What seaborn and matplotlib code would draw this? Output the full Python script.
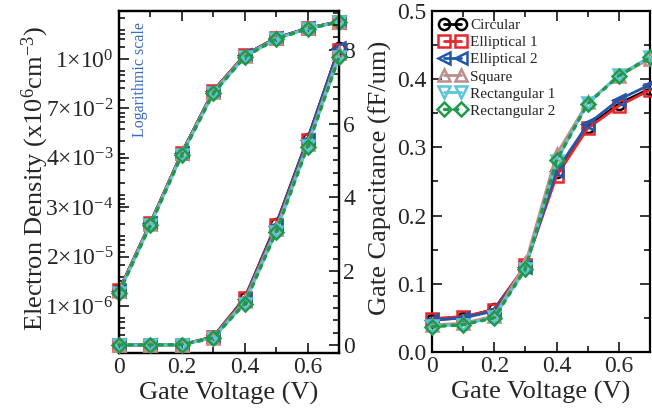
import numpy as np
import pandas as pd
import matplotlib
matplotlib.use("Agg")
import matplotlib.pyplot as plt
import matplotlib.ticker as mticker
import seaborn as sns

# ---------------- data ----------------
voltage = [0.0, 0.1, 0.2, 0.3, 0.4, 0.5, 0.6, 0.7]
series_names = ["Circular", "Elliptical 1", "Elliptical 2", "Square",
                "Rectangular 1", "Rectangular 2"]

# electron density, logarithmic-scale curve (x10^6 cm^-3)
density_log_circular = [2.4e-6, 1.05e-4, 5.3e-3, 0.168, 1.25, 3.25, 5.6, 8.1]
density_log_ellip1 = [2.4e-6, 1.05e-4, 5.3e-3, 0.168, 1.25, 3.22, 5.55, 8.05]
density_log_ellip2 = [2.3e-6, 1.02e-4, 5.2e-3, 0.165, 1.23, 3.2, 5.55, 8.1]
density_log_square = [2.3e-6, 1.0e-4, 5.1e-3, 0.16, 1.2, 3.15, 5.5, 7.95]
density_log_rect1 = [2.1e-6, 9.3e-5, 4.7e-3, 0.146, 1.12, 3.06, 5.45, 7.9]
density_log_rect2 = [2.1e-6, 9.3e-5, 4.7e-3, 0.146, 1.12, 3.06, 5.4, 7.85]

# electron density, linear-scale curve (x10^6 cm^-3)
density_lin_circular = [0.0, 0.0, 0.005, 0.22, 1.27, 3.27, 5.58, 8.05]
density_lin_ellip1 = [0.0, 0.0, 0.005, 0.22, 1.26, 3.24, 5.55, 8.0]
density_lin_ellip2 = [0.0, 0.0, 0.005, 0.21, 1.24, 3.22, 5.55, 8.05]
density_lin_square = [0.0, 0.0, 0.005, 0.2, 1.2, 3.15, 5.45, 7.9]
density_lin_rect1 = [0.0, 0.0, 0.005, 0.19, 1.12, 3.06, 5.38, 7.8]
density_lin_rect2 = [0.0, 0.0, 0.005, 0.19, 1.12, 3.06, 5.37, 7.8]

# gate capacitance (fF/um)
cap_circular = [0.047, 0.050, 0.063, 0.126, 0.264, 0.330, 0.364, 0.386]
cap_ellip1 = [0.049, 0.052, 0.062, 0.127, 0.258, 0.328, 0.361, 0.384]
cap_ellip2 = [0.047, 0.050, 0.060, 0.125, 0.266, 0.334, 0.370, 0.392]
cap_square = [0.040, 0.042, 0.053, 0.130, 0.290, 0.366, 0.405, 0.430]
cap_rect1 = [0.038, 0.040, 0.051, 0.122, 0.280, 0.365, 0.406, 0.433]
cap_rect2 = [0.037, 0.040, 0.050, 0.122, 0.281, 0.364, 0.405, 0.432]

log_tick_labels = [r"1×10$^{0}$", r"7×10$^{-2}$", r"4×10$^{-3}$",
                   r"3×10$^{-4}$", r"2×10$^{-5}$", r"1×10$^{-6}$"]
log_tick_exponents = [0.0, -1.2, -2.4, -3.6, -4.8, -6.0]

density_log = [density_log_circular, density_log_ellip1, density_log_ellip2,
               density_log_square, density_log_rect1, density_log_rect2]
density_lin = [density_lin_circular, density_lin_ellip1, density_lin_ellip2,
               density_lin_square, density_lin_rect1, density_lin_rect2]
capacitance = [cap_circular, cap_ellip1, cap_ellip2, cap_square, cap_rect1, cap_rect2]

# ---------------- style ----------------
colors = ["#000000", "#e8262b", "#2457a8", "#bc8f8a", "#5cc6d8", "#1f9a4a"]
markers = ["o", "s", "<", "^", "v", "D"]
linestyles = ["-", "-", "-", "-", "-", ":"]

sns.set_style("ticks")
plt.rcParams["font.family"] = ["Liberation Serif", "DejaVu Serif"]
plt.rcParams["mathtext.fontset"] = "custom"
plt.rcParams["mathtext.rm"] = "Liberation Serif"
plt.rcParams["mathtext.it"] = "Liberation Serif:italic"
plt.rcParams["axes.linewidth"] = 1.6
plt.rcParams["axes.edgecolor"] = "black"

fig = plt.figure(figsize=(6.52, 4.12), dpi=100)
axL = fig.add_axes([119 / 652, 1 - 353 / 412, 220 / 652, 342 / 412])
axR = axL.twinx()
axC = fig.add_axes([432 / 652, 1 - 352 / 412, 218 / 652, 341 / 412])

LW = 2.0
MS = 8.0
MEW = 1.8
TICK_FS = 17
LABEL_FS = 19


def draw(ax, yvals, label=None):
    for i in range(len(series_names)):
        sns.lineplot(x=voltage, y=yvals[i], ax=ax, color=colors[i],
                     marker=markers[i], markersize=MS if markers[i] != "D" else MS - 1,
                     mfc="none", mec=colors[i], mew=MEW,
                     linestyle=linestyles[i], lw=LW if linestyles[i] == "-" else 2.4,
                     label=series_names[i] if label else None,
                     legend=False, errorbar=None, clip_on=False, zorder=3 + i)


draw(axL, density_log)
draw(axR, density_lin)
draw(axC, capacitance, label=True)

for ln in axL.lines + axR.lines + axC.lines:
    if ln.get_linestyle() == ":":
        ln.set_dashes([1.0, 2.0])
        ln.set_dash_capstyle("round")

# ---- left panel axes ----
axL.set_yscale("log")
axL.set_xlim(0, 0.7)
axL.set_ylim(10 ** -7.14, 10 ** 1.165)
axL.yaxis.set_major_locator(mticker.FixedLocator([10 ** e for e in log_tick_exponents]))
axL.yaxis.set_major_formatter(mticker.FixedFormatter(log_tick_labels))
axL.yaxis.set_minor_locator(mticker.LogLocator(base=10, subs=(1.0, 2.0, 3.0, 4.0, 5.0), numticks=30))
axL.yaxis.set_minor_formatter(mticker.NullFormatter())
axR.set_ylim(-0.22, 9.05)
axR.yaxis.set_major_locator(mticker.MultipleLocator(2))
axR.yaxis.set_minor_locator(mticker.MultipleLocator(2 / 6))

xfmt = mticker.FuncFormatter(lambda v, p: "0" if abs(v) < 1e-9 else f"{v:.1f}")
for ax in (axL, axC):
    ax.xaxis.set_major_locator(mticker.MultipleLocator(0.2))
    ax.xaxis.set_minor_locator(mticker.MultipleLocator(0.1))
    ax.xaxis.set_major_formatter(xfmt)
    ax.set_xlim(0, 0.7)

axL.tick_params(axis="both", which="both", direction="in", labelsize=TICK_FS, width=1.3, pad=3)
axL.tick_params(axis="x", which="both", top=True, bottom=True)
axL.tick_params(axis="y", which="both", left=True, right=False, pad=4)
axL.tick_params(which="major", length=7)
axL.tick_params(which="minor", length=4)
axR.tick_params(axis="y", which="both", direction="in", labelsize=TICK_FS, width=1.3, pad=3)
axR.tick_params(which="major", length=7)
axR.tick_params(which="minor", length=4)

axL.set_xlabel("Gate Voltage (V)", fontsize=LABEL_FS)
axL.xaxis.set_label_coords(0.5, -0.085)
axL.set_ylabel(r"Electron Density (x10$^{6}$cm$^{-3}$)", fontsize=LABEL_FS)
axL.yaxis.set_label_coords(-0.31, 0.51)
axR.set_ylabel("")

axL.text(0.095, 0.80, "Logarithmic scale", transform=axL.transAxes, rotation=90,
         color="#3a6cc0", fontsize=11.5, ha="center", va="center")

# ---- right panel axes ----
axC.set_ylim(0, 0.5)
axC.yaxis.set_major_locator(mticker.MultipleLocator(0.1))
axC.yaxis.set_minor_locator(mticker.MultipleLocator(0.05))
axC.yaxis.set_major_formatter(mticker.FuncFormatter(lambda v, p: f"{v:.1f}"))
axC.tick_params(axis="both", which="both", direction="in", labelsize=TICK_FS, width=1.3, pad=3,
                top=True, bottom=True, left=True, right=True)
axC.tick_params(axis="y", pad=4)
axC.tick_params(which="major", length=7)
axC.tick_params(which="minor", length=4)
axC.set_xlabel("Gate Voltage (V)", fontsize=LABEL_FS)
axC.xaxis.set_label_coords(0.5, -0.085)
axC.set_ylabel("Gate Capacitance (fF/um)", fontsize=LABEL_FS)
axC.yaxis.set_label_coords(-0.185, 0.51)

for ax in (axL, axR, axC):
    for sp in ax.spines.values():
        sp.set_linewidth(1.6)
        sp.set_visible(True)

axC.legend(loc="upper left", frameon=False, numpoints=2, fontsize=11,
           handlelength=1.7, handletextpad=0.3, labelspacing=0.22,
           borderaxespad=0.3, borderpad=0.2)

fig.savefig("out.png", dpi=100)
